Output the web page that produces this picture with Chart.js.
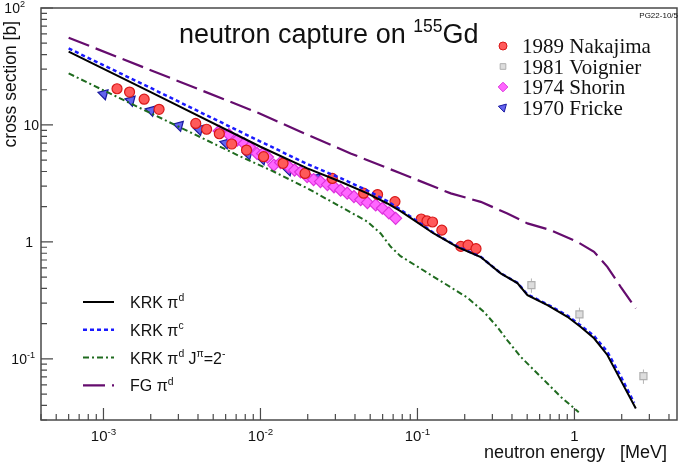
<!DOCTYPE html>
<html>
<head>
<meta charset="UTF-8">
<title>neutron capture on 155Gd</title>
<script src="https://cdn.jsdelivr.net/npm/chart.js@4.4.1/dist/chart.umd.min.js"></script>
<style>
  html, body { margin: 0; padding: 0; background: white; }
</style>
</head>
<body>
<canvas id="grafico" width="685" height="463"></canvas>
<script>
// curvas teoricas (energia em MeV, secao de choque em b)
const fgE = [6.0e-4, 2.0e-3, 9.8e-3, 0.018, 0.0375, 0.078, 0.163, 0.253, 0.374, 0.502, 0.706, 1.045, 1.333, 1.62, 1.97, 2.46];
const fgSig = [55.7, 29.4, 12.6, 8.75, 5.71, 3.86, 2.60, 2.20, 1.75, 1.44, 1.26, 1.00, 0.822, 0.612, 0.413, 0.270];

const krkdE = [6.0e-4, 2.0e-3, 0.01, 0.0199, 0.0324, 0.048, 0.0643, 0.078, 0.127, 0.179, 0.253, 0.339, 0.433, 0.502, 0.673, 0.902, 1.097, 1.333, 1.62, 1.97, 2.46];
const krkdSig = [42.3, 19.05, 6.51, 4.25, 3.27, 2.60, 2.13, 1.83, 1.18, 0.908, 0.742, 0.538, 0.444, 0.351, 0.288, 0.229, 0.187, 0.150, 0.108, 0.0658, 0.0376];

const krkcE = [6.0e-4, 2.0e-3, 0.01, 0.0199, 0.0324, 0.048, 0.0643, 0.078, 0.127, 0.179, 0.253, 0.339, 0.433, 0.502, 0.673, 0.902, 1.097, 1.333, 1.62, 1.97, 2.40];
const krkcSig = [45.1, 20.7, 7.21, 4.63, 3.51, 2.75, 2.23, 1.89, 1.19, 0.915, 0.745, 0.540, 0.447, 0.355, 0.292, 0.234, 0.193, 0.157, 0.115, 0.0710, 0.0420];

const j2E = [6.0e-4, 2.0e-3, 7.5e-3, 0.0122, 0.0199, 0.0324, 0.048, 0.0583, 0.0676, 0.078, 0.127, 0.208, 0.265, 0.323, 0.374, 0.455, 0.553, 0.673, 0.818, 1.065];
const j2Sig = [27.6, 12.6, 5.35, 3.98, 2.87, 2.00, 1.49, 1.18, 0.908, 0.756, 0.503, 0.334, 0.252, 0.187, 0.144, 0.104, 0.080, 0.0616, 0.0473, 0.035];

// dados experimentais
const nakE = [1.22e-3, 1.466e-3, 1.816e-3, 2.26e-3, 3.87e-3, 4.54e-3, 5.47e-3, 6.56e-3, 8.15e-3, 0.01047, 0.01393, 0.01922, 0.0287, 0.0454, 0.0557, 0.0719, 0.1057, 0.115, 0.1247, 0.143, 0.189, 0.210, 0.236];
const nakSig = [20.4, 19.1, 16.6, 13.6, 10.3, 9.19, 8.41, 6.87, 6.10, 5.35, 4.70, 3.85, 3.49, 2.61, 2.54, 2.21, 1.57, 1.51, 1.48, 1.26, 0.915, 0.939, 0.875];

const voigE = [0.532, 1.076, 2.75];
const voigSig = [0.427, 0.240, 0.0711];
const voigErr = [0.06, 0.034, 0.010];

const shorE = [5.45e-3, 6.29e-3, 7.11e-3, 7.86e-3, 8.53e-3, 9.51e-3, 0.01031, 0.01109, 0.01217, 0.01343, 0.0151, 0.01649, 0.01802, 0.01983, 0.0218, 0.0241, 0.0267, 0.0294, 0.0324, 0.0357, 0.0394, 0.0435, 0.048, 0.0542, 0.0598, 0.0658, 0.0726];
const shorSig = [8.87, 8.28, 7.43, 6.93, 6.47, 5.71, 5.69, 5.31, 4.54, 4.77, 4.41, 4.11, 3.96, 3.62, 3.41, 3.28, 3.09, 2.96, 2.77, 2.61, 2.44, 2.30, 2.17, 2.07, 1.94, 1.77, 1.59];

const frickeE = [1.005e-3, 1.494e-3, 2.01e-3, 3.03e-3, 4.06e-3, 6.0e-3, 8.34e-3, 0.0103, 0.0151, 0.0225];
const frickeSig = [18.4, 16.2, 13.3, 9.88, 9.14, 7.0, 5.64, 5.11, 4.11, 3.51];

const xLabels = [1e-3, 1e-2, 1e-1, 1];
const yLabels = [100, 10, 1, 0.1];

function pares(xs, ys) {
    return xs.map((x, i) => ({ x: x, y: ys[i] }));
}

function ticksLog(min, max) {
    let lista = [];
    for (let d = -5; d <= 3; d++) {
        for (let m = 1; m <= 9; m++) {
            let v = m * Math.pow(10, d);
            if (v >= min * 0.999 && v <= max * 1.001) lista.push({ value: v });
        }
    }
    return lista;
}

function ehDecada(v) {
    let l = Math.log10(v);
    return Math.abs(l - Math.round(l)) < 1e-6;
}

const sans = '"Liberation Sans", Arial, sans-serif';
const serif = '"Liberation Serif", "Times New Roman", serif';

// texto com expoentes: partes = [[texto, sobrescrito], ...]
function textoRico(ctx, partes, x, y, tam, alinhar, familia) {
    let larg = 0;
    partes.forEach(p => {
        ctx.font = (p[1] ? tam * 0.65 : tam) + 'px ' + familia;
        larg += ctx.measureText(p[0]).width;
    });
    let cx = x;
    if (alinhar === 'center') cx = x - larg / 2;
    if (alinhar === 'right') cx = x - larg;
    ctx.textAlign = 'left';
    ctx.textBaseline = 'alphabetic';
    partes.forEach(p => {
        ctx.font = (p[1] ? tam * 0.65 : tam) + 'px ' + familia;
        ctx.fillText(p[0], cx, p[1] ? y - tam * 0.42 : y);
        cx += ctx.measureText(p[0]).width;
    });
}

const eixos = {
    id: 'eixos',
    beforeDatasetsDraw(chart) {
        const ctx = chart.ctx;
        const a = chart.chartArea;
        const sx = chart.scales.x, sy = chart.scales.y;
        ctx.save();
        ctx.strokeStyle = '#4a4a4a';
        ctx.lineWidth = 1.5;
        ctx.strokeRect(a.left, a.top, a.right - a.left, a.bottom - a.top);
        ctx.lineWidth = 1.2;
        ctx.beginPath();
        sx.ticks.forEach(t => {
            let px = sx.getPixelForValue(t.value);
            let len = ehDecada(t.value) ? 12 : 6;
            ctx.moveTo(px, a.bottom);
            ctx.lineTo(px, a.bottom - len);
        });
        sy.ticks.forEach(t => {
            let py = sy.getPixelForValue(t.value);
            let len = ehDecada(t.value) ? 12 : 6;
            ctx.moveTo(a.left, py);
            ctx.lineTo(a.left + len, py);
        });
        ctx.stroke();

        // barras de erro do Voignier
        ctx.strokeStyle = '#b4b4b4';
        ctx.lineWidth = 1;
        ctx.beginPath();
        voigE.forEach((e, i) => {
            let px = sx.getPixelForValue(e);
            ctx.moveTo(px, sy.getPixelForValue(voigSig[i] - voigErr[i]));
            ctx.lineTo(px, sy.getPixelForValue(voigSig[i] + voigErr[i]));
        });
        ctx.stroke();
        ctx.restore();
    },
    afterDraw(chart) {
        const ctx = chart.ctx;
        const sx = chart.scales.x, sy = chart.scales.y;
        const ds = chart.data.datasets;
        ctx.save();
        ctx.fillStyle = '#111';

        // rotulos do eixo x
        xLabels.forEach(v => {
            let px = sx.getPixelForValue(v);
            let e = Math.round(Math.log10(v));
            let partes = e === 0 ? [['1', false]] : [['10', false], [String(e), true]];
            textoRico(ctx, partes, px, 441, 15, 'center', sans);
        });
        // rotulos do eixo y
        const yDireita = [25, 39, 33, 35];
        yLabels.forEach((v, i) => {
            let py = sy.getPixelForValue(v);
            let e = Math.round(Math.log10(v));
            let partes = e === 0 ? [['1', false]] : (e === 1 ? [['10', false]] : [['10', false], [String(e), true]]);
            textoRico(ctx, partes, yDireita[i], Math.max(py + 5, 13), 14, 'right', sans);
        });

        // titulos dos eixos
        ctx.font = '18px ' + sans;
        ctx.textAlign = 'right';
        ctx.fillText('neutron energy   [MeV]', 667, 458);
        ctx.save();
        ctx.translate(16, 21);
        ctx.rotate(-Math.PI / 2);
        ctx.font = '17.5px ' + sans;
        ctx.textAlign = 'right';
        ctx.fillText('cross section [b]', 0, 0);
        ctx.restore();

        // titulo
        textoRico(ctx, [['neutron capture on ', false], ['155', true], ['Gd', false]], 179, 43, 27, 'left', sans);

        ctx.font = '8px ' + sans;
        ctx.textAlign = 'right';
        ctx.fillText('PG22-10/5', 678, 18);

        // legenda dos dados (direita)
        const linhasDados = [[4, '1989 Nakajima'], [5, '1981 Voignier'], [6, '1974 Shorin'], [7, '1970 Fricke']];
        linhasDados.forEach((l, i) => {
            let d = ds[l[0]];
            let cy = 46 + i * 20.5;
            ctx.fillStyle = d.backgroundColor;
            ctx.strokeStyle = d.borderColor;
            ctx.lineWidth = 1;
            Chart.helpers.drawPoint(ctx, { pointStyle: d.pointStyle, radius: d.pointRadius * 0.8, rotation: d.rotation || 0, borderWidth: 1 }, 503, cy);
            ctx.fillStyle = '#111';
            ctx.font = '21px ' + serif;
            ctx.textAlign = 'left';
            ctx.fillText(l[1], 522, cy + 7);
        });

        // legenda das curvas (esquerda)
        const linhasCurvas = [
            [0, [['KRK \u03c0', false], ['d', true]]],
            [1, [['KRK \u03c0', false], ['c', true]]],
            [2, [['KRK \u03c0', false], ['d', true], [' J', false], ['\u03c0', true], ['=2', false], ['-', true]]],
            [3, [['FG \u03c0', false], ['d', true]]]
        ];
        linhasCurvas.forEach((l, i) => {
            let d = ds[l[0]];
            let cy = 302 + i * 27.8;
            ctx.strokeStyle = d.borderColor;
            ctx.lineWidth = d.borderWidth;
            ctx.setLineDash(d.borderDash || []);
            ctx.beginPath();
            ctx.moveTo(83, cy);
            ctx.lineTo(114, cy);
            ctx.stroke();
            ctx.setLineDash([]);
            ctx.fillStyle = '#111';
            textoRico(ctx, l[1], 130, cy + 6, 16, 'left', sans);
        });
        ctx.restore();
    }
};

function curva(dados, cor, larg, traco) {
    return {
        data: dados, showLine: true, borderColor: cor, backgroundColor: cor,
        borderWidth: larg, borderDash: traco, pointRadius: 0, tension: 0, fill: false
    };
}

function pontos(dados, estilo, raio, fundo, borda, rot) {
    return {
        data: dados, showLine: false, pointStyle: estilo, pointRadius: raio, rotation: rot || 0,
        backgroundColor: fundo, borderColor: borda, borderWidth: 1.2
    };
}

let grafico = new Chart(document.getElementById('grafico'), {
    type: 'scatter',
    data: {
        datasets: [
            curva(pares(krkdE, krkdSig), '#000000', 2, []),
            curva(pares(krkcE, krkcSig), '#1a1aff', 2.5, [4, 3]),
            curva(pares(j2E, j2Sig), '#1f6b1f', 2, [6, 3, 2, 3]),
            curva(pares(fgE, fgSig), '#650c6e', 2.2, [22, 7]),
            pontos(pares(nakE, nakSig), 'circle', 5, '#ff5a5a', '#d81818'),
            pontos(pares(voigE, voigSig), 'rect', 5, '#dddddd', '#b0b0b0'),
            pontos(pares(shorE, shorSig), 'rectRot', 6, '#ff66ff', '#dd33dd'),
            pontos(pares(frickeE, frickeSig), 'triangle', 6, '#6464ee', '#1a1aa0', 165)
        ]
    },
    options: {
        responsive: false,
        animation: false,
        events: [],
        layout: { padding: { top: 8, right: 8, left: 0, bottom: 0 } },
        plugins: { legend: { display: false }, tooltip: { enabled: false } },
        scales: {
            x: {
                type: 'logarithmic', min: 4e-4, max: 4.5,
                ticks: { display: false }, grid: { display: false }, border: { display: false },
                afterBuildTicks: s => { s.ticks = ticksLog(4e-4, 4.5); },
                afterFit: s => { s.height = 43; }
            },
            y: {
                type: 'logarithmic', min: 0.03, max: 100,
                ticks: { display: false }, grid: { display: false }, border: { display: false },
                afterBuildTicks: s => { s.ticks = ticksLog(0.03, 100); },
                afterFit: s => { s.width = 41; }
            }
        }
    },
    plugins: [eixos]
});
</script>
</body>
</html>
